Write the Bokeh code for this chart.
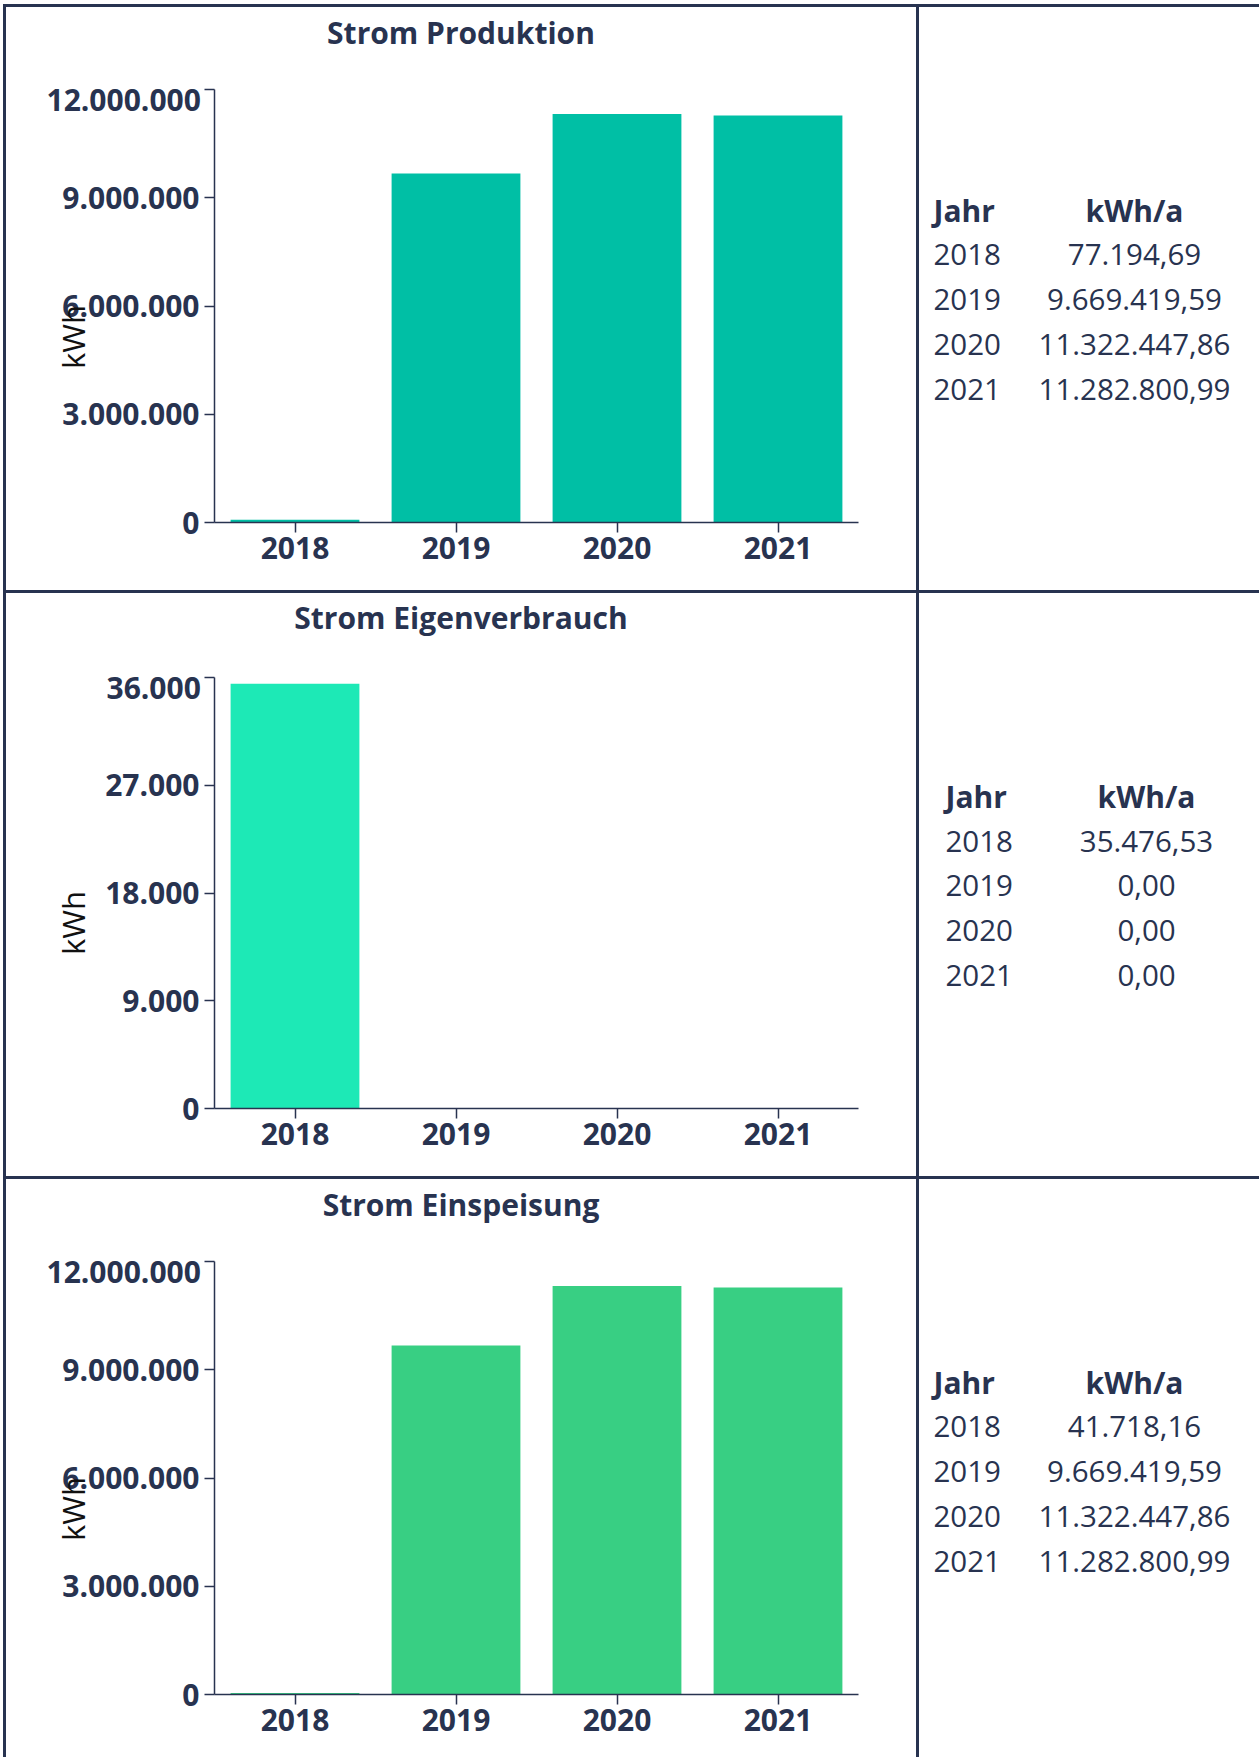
from bokeh.plotting import figure
from bokeh.models import (ColumnDataSource, FactorRange, Range1d, FixedTicker, LinearAxis,
                          Spacer, CustomJSTickFormatter)
from bokeh.layouts import row, column
from bokeh.embed import file_html
from bokeh.resources import INLINE
from bokeh.core.properties import value

# ---------------- data ----------------
years = ["2018", "2019", "2020", "2021"]
produktion = [77194.69, 9669419.59, 11322447.86, 11282800.99]
eigenverbrauch = [35476.53, 0.00, 0.00, 0.00]
einspeisung = [41718.16, 9669419.59, 11322447.86, 11282800.99]

titles = ["Strom Produktion", "Strom Eigenverbrauch", "Strom Einspeisung"]
ticks_big = [0, 3000000, 6000000, 9000000, 12000000]
ticks_small = [0, 9000, 18000, 27000, 36000]
y_label = "kWh"
table_header = ["Jahr", "kWh/a"]

# ---------------- style / layout ----------------
NAVY = "#283350"
FONT = "Open Sans"
FS_B = "30px"
FS_R = "29.5px"
colors = ["#00BFA5", "#1DE9B6", "#38CF83"]
LINE = 3
CHART_W = 910
TABLE_W = 340
ROW_H = [583, 583, 578]
BORDERS = [(82, 68), (84, 68), (82, 63)]      # min_border top / bottom
BL, BR = 208, 58                                # min_border left / right
FRAME_W = CHART_W - BL - BR
TITLE_X = 246.5                                 # px from frame left
TITLE_STANDOFF = [37, 40, 37]
KWH_Y = 185.5                                   # px from frame bottom
KWH_STANDOFF = [-34, 9, -34]
TOP_LABEL_DROP = 10.7                           # top tick label sits flush below its tick
TOP_LABEL_RIGHT = 199.5 - 6                     # right edge of labels, px from figure left
TOP_LABEL_W = [153.6, 93.0, 153.6]
TABLE_HEADER_Y = [202.6, 202.8, 202.5]
TABLE_COL1 = [14, 26, 14]
TABLE_COL2 = [215, 227, 215]
TABLE_ROW_H = 44.84


def de_int(v):
    return f"{int(v):,}".replace(",", ".")


def de_dec(v):
    return f"{v:,.2f}".replace(",", "X").replace(".", ",").replace("X", ".")


def num_fmt(top):
    return CustomJSTickFormatter(args=dict(top=top), code="""
        if (tick >= top) { return ""; }
        return Math.round(tick).toString().replace(/\\B(?=(\\d{3})+(?!\\d))/g, ".");
    """)


def text_axis(ax, text, size, style, color, standoff):
    ax.formatter = CustomJSTickFormatter(args=dict(t=text), code="return t;")
    ax.axis_line_color = None
    ax.major_tick_line_color = None
    ax.minor_tick_line_color = None
    ax.major_tick_out = 0
    ax.major_tick_in = 0
    ax.major_label_standoff = standoff
    ax.major_label_text_font = FONT
    ax.major_label_text_font_size = size
    ax.major_label_text_font_style = style
    ax.major_label_text_color = color


def make_chart(i, title, vals, ticks, color, h, bt, bb):
    frame_h = h - bt - bb
    src = ColumnDataSource(dict(year=years, val=vals))
    p = figure(width=CHART_W, height=h, x_range=FactorRange(*years),
               y_range=Range1d(0, ticks[-1]), output_backend="svg",
               toolbar_location=None, min_border_left=BL, min_border_right=BR,
               min_border_top=bt, min_border_bottom=bb)
    p.vbar(x="year", top="val", width=0.8, source=src, fill_color=color, line_color=None)
    p.xgrid.grid_line_color = None
    p.ygrid.grid_line_color = None
    p.outline_line_color = None
    xa, ya = p.xaxis[0], p.yaxis[0]
    for ax in (xa, ya):
        ax.axis_line_color = NAVY
        ax.axis_line_width = 1.5
        ax.major_tick_line_color = NAVY
        ax.major_tick_line_width = 1.5
        ax.major_tick_out = 10
        ax.major_tick_in = 0
        ax.minor_tick_line_color = None
        ax.major_label_text_font = FONT
        ax.major_label_text_font_style = "bold"
        ax.major_label_text_font_size = FS_B
        ax.major_label_text_color = NAVY
    xa.major_label_standoff = 4
    ya.major_label_standoff = 5
    ya.ticker = FixedTicker(ticks=ticks)
    ya.formatter = num_fmt(ticks[-1])

    # chart title: label of an invisible top axis (synthetic categorical coordinate)
    ta = LinearAxis(ticker=FixedTicker(ticks=[len(years) * TITLE_X / FRAME_W]))
    text_axis(ta, title, FS_B, "bold", NAVY, TITLE_STANDOFF[i])
    p.add_layout(ta, "above")

    # y label "kWh"
    p.extra_y_ranges = {"lbl": Range1d(0, frame_h)}
    la = LinearAxis(y_range_name="lbl", ticker=FixedTicker(ticks=[KWH_Y]))
    text_axis(la, y_label, "31px", "normal", "#111111", KWH_STANDOFF[i])
    la.major_label_orientation = "vertical"
    p.add_layout(la, "left")

    # top tick label, drawn flush below its tick
    ra = LinearAxis(y_range_name="lbl", ticker=FixedTicker(ticks=[frame_h - TOP_LABEL_DROP]))
    so = int(round(TOP_LABEL_RIGHT - TOP_LABEL_W[i] - (BL + FRAME_W)))
    text_axis(ra, de_int(ticks[-1]), FS_B, "bold", NAVY, so)
    p.add_layout(ra, "right")
    return p


def make_table(vals, h, bt, bb, hy, c1, c2):
    p = figure(width=TABLE_W, height=h, x_range=Range1d(0, TABLE_W),
               y_range=Range1d(h - bb, bt), output_backend="svg", toolbar_location=None,
               min_border_left=0, min_border_right=0, min_border_top=bt,
               min_border_bottom=bb, x_axis_location=None, y_axis_location=None)
    p.xgrid.grid_line_color = None
    p.ygrid.grid_line_color = None
    p.outline_line_color = None
    ys = [hy + (k + 1) * TABLE_ROW_H for k in range(len(years))]
    hdr = ColumnDataSource(dict(x=[c1, c2], y=[hy, hy], t=table_header, a=["left", "center"]))
    p.text(x="x", y="y", text="t", text_align="a", source=hdr, text_baseline="middle",
           text_font=value(FONT), text_font_style="bold", text_font_size=FS_B, text_color=NAVY)
    body = ColumnDataSource(dict(x1=[c1] * len(years), x2=[c2] * len(years), y=ys,
                                 yr=years, v=[de_dec(v) for v in vals]))
    p.text(x="x1", y="y", text="yr", source=body, text_align="left", text_baseline="middle",
           text_font=value(FONT), text_font_size=FS_R, text_color=NAVY)
    p.text(x="x2", y="y", text="v", source=body, text_align="center", text_baseline="middle",
           text_font=value(FONT), text_font_size=FS_R, text_color=NAVY)
    return p


def hline():
    return row(Spacer(width=3, height=LINE),
               Spacer(width=LINE * 2 + CHART_W + TABLE_W, height=LINE,
                      styles={"background-color": NAVY}), spacing=0)


def vline(h):
    return Spacer(width=LINE, height=h, styles={"background-color": NAVY})


series = [produktion, eigenverbrauch, einspeisung]
tick_sets = [ticks_big, ticks_small, ticks_big]
items = [Spacer(width=10, height=4)]
for i in range(3):
    bt, bb = BORDERS[i]
    ch = make_chart(i, titles[i], series[i], tick_sets[i], colors[i], ROW_H[i], bt, bb)
    tb = make_table(series[i], ROW_H[i], bt, bb, TABLE_HEADER_Y[i], TABLE_COL1[i], TABLE_COL2[i])
    items.append(hline())
    items.append(row(Spacer(width=3, height=ROW_H[i]), vline(ROW_H[i]), ch,
                     vline(ROW_H[i]), tb, spacing=0))

layout = column(*items, spacing=0)
open("out.html", "w").write(file_html(layout, INLINE))
